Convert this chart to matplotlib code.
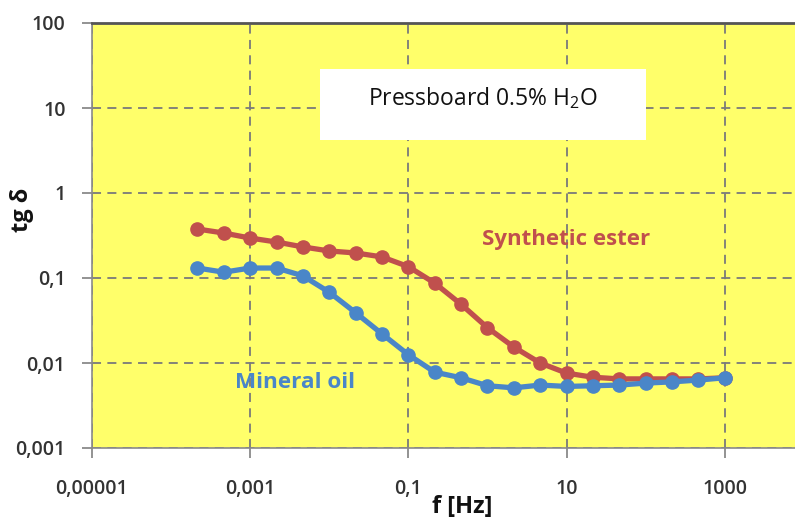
import matplotlib
matplotlib.use("Agg")
import matplotlib.pyplot as plt
from matplotlib.patches import Rectangle
from matplotlib.ticker import FixedLocator, NullLocator

# ---- data ----
freq_exponents = [k / 3 for k in range(-11, 10)]
freq = [10 ** e for e in freq_exponents]

synthetic_ester = [0.377, 0.338, 0.295, 0.265, 0.232, 0.208, 0.197, 0.177, 0.136,
                   0.087, 0.049, 0.026, 0.0154, 0.0100, 0.0076, 0.0068, 0.0065,
                   0.0065, 0.0065, 0.0065, 0.0067]
mineral_oil = [0.131, 0.117, 0.131, 0.131, 0.106, 0.068, 0.039, 0.022, 0.0125,
               0.0078, 0.0067, 0.0054, 0.0051, 0.0055, 0.0053, 0.0054, 0.0055,
               0.0058, 0.0060, 0.0063, 0.0067]

x_ticks = [1e-5, 1e-3, 1e-1, 10, 1000]
x_tick_labels = ["0,00001", "0,001", "0,1", "10", "1000"]
y_ticks = [1e-3, 1e-2, 1e-1, 1, 10, 100]
y_tick_labels = ["0,001", "0,01", "0,1", "1", "10", "100"]

series_names = ["Synthetic ester", "Mineral oil"]
title_text = r"Pressboard 0.5% H$_\mathregular{2}$O"
x_label = "f [Hz]"
y_label = "tg δ"

# ---- style ----
plt.rcParams["font.family"] = ["Open Sans", "DejaVu Sans"]
plt.rcParams["mathtext.fontset"] = "custom"
plt.rcParams["mathtext.rm"] = "Open Sans"

red = "#C0504D"
blue = "#4A86C8"
W, H = 795, 520

fig = plt.figure(figsize=(W / 100, H / 100), dpi=100)
ax = fig.add_axes([92 / W, 1 - 448 / H, (W - 92) / W, (448 - 23) / H])
ax.set_facecolor("#FFFF6A")
ax.set_xscale("log")
ax.set_yscale("log")
ax.set_xlim(1e-5, 10 ** 3.888)
ax.set_ylim(1e-3, 100)

ax.xaxis.set_major_locator(FixedLocator(x_ticks))
ax.xaxis.set_minor_locator(NullLocator())
ax.yaxis.set_major_locator(FixedLocator(y_ticks))
ax.yaxis.set_minor_locator(NullLocator())
ax.set_xticklabels(x_tick_labels)
ax.set_yticklabels(y_tick_labels)
ax.tick_params(axis="both", direction="out", length=7, width=1.2, color="#808080",
               labelsize=14, labelcolor="#333333")
ax.tick_params(axis="x", pad=15)
ax.tick_params(axis="y", pad=12)
for lbl in ax.get_xticklabels() + ax.get_yticklabels():
    lbl.set_fontweight("semibold")

ax.grid(True, which="major", color="#7a7a7a", linestyle=(0, (5, 3.5)), linewidth=1.3)
ax.set_axisbelow(True)

for side in ["left", "bottom"]:
    ax.spines[side].set_color("#8a8a8a")
    ax.spines[side].set_linewidth(1.2)
ax.spines["top"].set_color("#555555")
ax.spines["top"].set_linewidth(2)
ax.spines["right"].set_visible(False)

# white box with annotation
ax.add_patch(Rectangle((320 / W, 1 - 140 / H), 326 / W, 71 / H, transform=fig.transFigure,
                       facecolor="white", edgecolor="none", zorder=1.5))
fig.text(483 / W, 1 - 98 / H, title_text, ha="center", va="center", fontsize=16.5,
         color="#111111")

ax.plot(freq, synthetic_ester, color=red, linewidth=3.8, marker="o", markersize=9.5,
        zorder=3)
ax.plot(freq, mineral_oil, color=blue, linewidth=3.8, marker="o", markersize=9.5,
        zorder=3)

fig.text(566 / W, 1 - 240 / H, series_names[0], ha="center", va="center", fontsize=16,
         fontweight="bold", color=red)
fig.text(295 / W, 1 - 383 / H, series_names[1], ha="center", va="center", fontsize=16.2,
         fontweight="bold", color=blue)

fig.text(462 / W, 1 - 507 / H, x_label, ha="center", va="center", fontsize=17,
         fontweight="bold", color="#111111")
fig.text(22 / W, 1 - 210 / H, y_label, ha="center", va="center", fontsize=17,
         fontweight="bold", color="#111111", rotation=90)

fig.savefig("out.png", dpi=100)
